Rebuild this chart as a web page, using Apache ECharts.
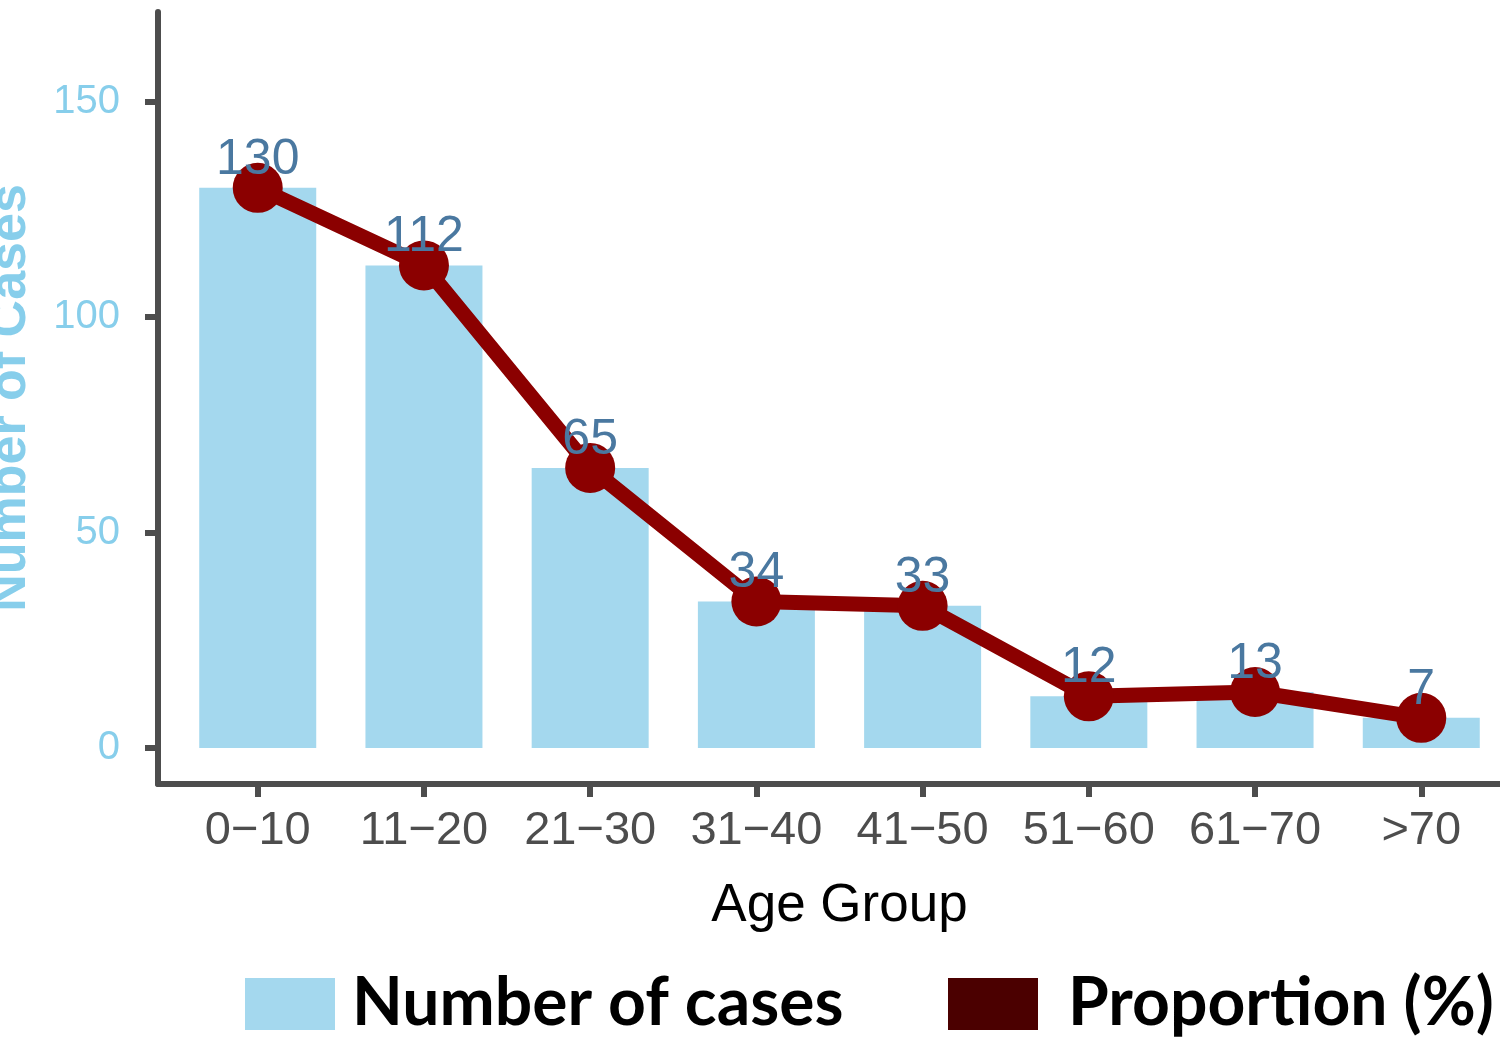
<!DOCTYPE html>
<html>
<head>
<meta charset="utf-8">
<script src="https://cdn.jsdelivr.net/npm/echarts@6/dist/echarts.min.js"></script>
<style>
  html, body { margin: 0; padding: 0; background: #fff; }
  #chart { width: 1500px; height: 1037px; }
</style>
</head>
<body>
<div id="chart"></div>
<script>
// data
const ageGroups = ['0\u221210', '11\u221220', '21\u221230', '31\u221240', '41\u221250', '51\u221260', '61\u221270', '>70']
const cases = [130, 112, 65, 34, 33, 12, 13, 7]
const proportion = [130, 112, 65, 34, 33, 12, 13, 7] // plotted on the same scale as the bars
const yTicks = [0, 50, 100, 150]

const xIdx = ageGroups.map((_, i) => i)
const axisColor = '#4d4d4d'
const font = "'Liberation Sans', Arial, sans-serif"

const legendText = { fontFamily: 'Lato', fontWeight: 'bold', fontSize: 66, color: '#000', lineHeight: 52 }

const chart = echarts.init(document.getElementById('chart'))

chart.setOption({
  animation: false,
  backgroundColor: '#fff',
  grid: { left: 158, top: 12, width: 1363, height: 772, containLabel: false, outerBoundsMode: 'none' },
  legend: [
    {
      data: [{ name: 'Number of cases', itemStyle: { color: '#a4d8ee', borderWidth: 0 } }],
      left: 245, top: 971, icon: 'rect', itemWidth: 90, itemHeight: 52, padding: 0,
      textStyle: { ...legendText, padding: [0, 0, 0, 12] },
    },
    {
      data: [{ name: 'Proportion (%)', itemStyle: { color: '#4b0000', borderWidth: 0 } }],
      left: 948, top: 971, icon: 'rect', itemWidth: 90, itemHeight: 52, padding: 0,
      textStyle: { ...legendText, padding: [0, 0, 0, 25] },
    },
  ],
  xAxis: {
    type: 'value',
    min: -0.6,
    max: 7.6,
    name: 'Age Group',
    nameLocation: 'middle',
    nameGap: 96,
    nameTextStyle: { fontFamily: font, fontSize: 53, color: '#000' },
    axisLine: { show: true, onZero: false, lineStyle: { color: axisColor, width: 6 } },
    axisTick: { show: true, customValues: xIdx, length: 13, lineStyle: { color: axisColor, width: 6 } },
    axisLabel: {
      customValues: xIdx,
      formatter: (v) => ageGroups[Math.round(v)],
      fontFamily: font, fontSize: 47, color: axisColor, margin: 24,
    },
    splitLine: { show: false },
  },
  yAxis: {
    type: 'value',
    min: -8.35,
    max: 170.8,
    name: 'Number of Cases',
    nameLocation: 'middle',
    nameGap: 121,
    nameRotate: 90,
    nameTextStyle: { fontFamily: font, fontSize: 52, fontWeight: 'bold', color: '#87ceeb' },
    axisLine: { show: true, onZero: false, lineStyle: { color: axisColor, width: 6 } },
    axisTick: { show: true, customValues: yTicks, length: 13, lineStyle: { color: axisColor, width: 6 } },
    axisLabel: { customValues: yTicks, fontFamily: font, fontSize: 40, color: '#87ceeb', margin: 38 },
    splitLine: { show: false },
  },
  series: [
    {
      name: 'Number of cases',
      type: 'bar',
      data: cases.map((v, i) => [i, v]),
      barWidth: 117,
      itemStyle: { color: '#a4d8ee' },
    },
    {
      name: 'Proportion (%)',
      type: 'line',
      data: proportion.map((v, i) => [i, v]),
      symbol: 'circle',
      symbolSize: 50,
      lineStyle: { color: '#8b0000', width: 15 },
      itemStyle: { color: '#8b0000' },
      label: {
        show: true,
        position: 'inside',
        offset: [0, -28],
        fontFamily: font,
        fontSize: 50,
        color: '#4a78a0',
      },
      z: 3,
    },
  ],
})
</script>
</body>
</html>
